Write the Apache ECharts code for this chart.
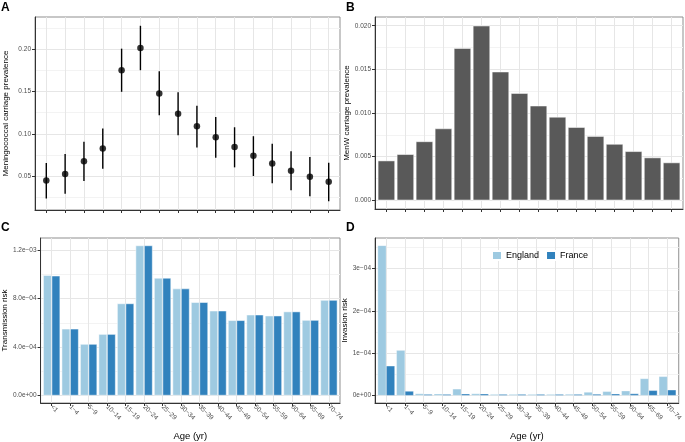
<!DOCTYPE html>
<html>
<head>
<meta charset="utf-8">
<script src="https://cdn.jsdelivr.net/npm/echarts@6/dist/echarts.min.js"></script>
<style>
html,body{margin:0;padding:0;background:#fff;}
#chart{width:685px;height:442px;}
</style>
</head>
<body>
<div id="chart"></div>
<script>
// ---------- data ----------
const ageLabels = ['<1','1\u22124','5\u22129','10\u221214','15\u221219','20\u221224','25\u221229','30\u221234','35\u221239','40\u221244','45\u221249','50\u221254','55\u221259','60\u221264','65\u221269','70\u221274'];

const carriageMean = [0.0445,0.0524,0.0673,0.0826,0.1753,0.2016,0.1478,0.1238,0.1089,0.0959,0.0842,0.0739,0.0649,0.0563,0.0492,0.0433];
const carriageLow  = [0.0233,0.0288,0.0441,0.0586,0.1497,0.1753,0.1219,0.0983,0.0838,0.0716,0.0602,0.0500,0.0414,0.0331,0.0260,0.0201];
const carriageHigh = [0.0653,0.0759,0.0904,0.1061,0.2008,0.2279,0.1741,0.1493,0.1332,0.1199,0.1077,0.0971,0.0881,0.0794,0.0724,0.0657];

const menW = [0.00454,0.00527,0.00674,0.00822,0.01742,0.0200,0.01473,0.01227,0.01083,0.00955,0.00837,0.00735,0.00644,0.00561,0.00489,0.00432];

const transEngland = [9.94e-4,5.51e-4,4.25e-4,5.07e-4,7.60e-4,1.239e-3,9.71e-4,8.83e-4,7.70e-4,7.00e-4,6.21e-4,6.67e-4,6.59e-4,6.93e-4,6.23e-4,7.88e-4];
const transFrance  = [9.89e-4,5.51e-4,4.25e-4,5.07e-4,7.60e-4,1.239e-3,9.71e-4,8.83e-4,7.70e-4,7.00e-4,6.21e-4,6.67e-4,6.59e-4,6.93e-4,6.23e-4,7.88e-4];

const invEngland = [3.547e-4,1.07e-4,4.4e-6,3.9e-6,1.55e-5,4.4e-6,3.0e-6,3.0e-6,3.0e-6,3.0e-6,3.3e-6,8.0e-6,9.6e-6,1.1e-5,4.0e-5,4.5e-5];
const invFrance  = [7.0e-5,1.03e-5,3.0e-6,3.0e-6,3.9e-6,3.9e-6,3.0e-6,3.0e-6,3.0e-6,3.0e-6,3.0e-6,3.3e-6,3.9e-6,4.4e-6,1.2e-5,1.33e-5];

const seriesNames = ['England','France'];

const ticksA = [0.05,0.10,0.15,0.20];
const tickLabelsA = ['0.05','0.10','0.15','0.20'];
const minorA = [0.025,0.075,0.125,0.175,0.225];
const ticksB = [0,0.005,0.010,0.015,0.020];
const tickLabelsB = ['0.000','0.005','0.010','0.015','0.020'];
const minorB = [0.0025,0.0075,0.0125,0.0175];
const ticksC = [0,4e-4,8e-4,1.2e-3];
const tickLabelsC = ['0.0e+00','4.0e\u221204','8.0e\u221204','1.2e\u221203'];
const minorC = [2e-4,6e-4,1e-3];
const ticksD = [0,1e-4,2e-4,3e-4];
const tickLabelsD = ['0e+00','1e\u221204','2e\u221204','3e\u221204'];
const minorD = [0.5e-4,1.5e-4,2.5e-4,3.5e-4];

// ---------- styling ----------
const FONT = '"Liberation Sans", Arial, Helvetica, sans-serif';
const TICK_COLOR = '#4d4d4d';
const GRID_MAJOR = '#e6e6e6';
const GRID_MINOR = '#f3f3f3';
const AXIS_COLOR = '#333333';
const COL_ENG = '#9ecae1';
const COL_FRA = '#3182bd';
const catIdx = ageLabels.map((_, i) => i);
const X_MIN = -0.6, X_MAX = 15.6;

const gridBoxes = [
  {left: 35, top: 17, width: 305, height: 193},
  {left: 375, top: 17, width: 308, height: 192},
  {left: 35, top: 238, width: 305, height: 175},
  {left: 375, top: 238, width: 308, height: 175}
];
const grids = gridBoxes.map(g => Object.assign({show: true, borderColor: '#8f8f8f', borderWidth: 1, backgroundColor: '#fff', containLabel: false}, g));
// pixel width of one category unit in each panel
const unitPx = gridBoxes.map(g => g.width / (X_MAX - X_MIN));

function labelFor(vals, labels) {
  return function (v) {
    for (let i = 0; i < vals.length; i++) if (Math.abs(vals[i] - v) < 1e-12) return labels[i];
    return '';
  };
}

function xAxisFor(gi, showLabels) {
  return {
    type: 'value', gridIndex: gi, min: X_MIN, max: X_MAX,
    name: showLabels ? 'Age (yr)' : '',
    nameLocation: 'middle', nameGap: 28,
    nameTextStyle: {fontFamily: FONT, fontSize: 9.5, color: '#000'},
    axisLine: {show: true, onZero: false, lineStyle: {color: AXIS_COLOR, width: 1}},
    axisTick: {show: true, customValues: catIdx, length: 3, lineStyle: {color: AXIS_COLOR}},
    axisLabel: {
      show: showLabels, customValues: catIdx, rotate: -45, margin: 3,
      fontFamily: FONT, fontSize: 6.5, color: TICK_COLOR,
      formatter: v => ageLabels[Math.round(v)] || ''
    },
    splitLine: {show: true, lineStyle: {color: GRID_MAJOR, width: 1}}
  };
}

function yAxisFor(gi, min, max, ticks, labels, title, gap) {
  return {
    type: 'value', gridIndex: gi, min: min, max: max,
    name: title, nameLocation: 'middle', nameGap: gap,
    nameTextStyle: {fontFamily: FONT, fontSize: 8, color: '#000'},
    axisLine: {show: true, onZero: false, lineStyle: {color: AXIS_COLOR, width: 1}},
    axisTick: {show: true, customValues: ticks, length: 3, lineStyle: {color: AXIS_COLOR}},
    axisLabel: {
      customValues: ticks, margin: 4,
      fontFamily: FONT, fontSize: 6.5, color: TICK_COLOR,
      formatter: labelFor(ticks, labels)
    },
    splitLine: {show: true, lineStyle: {color: GRID_MAJOR, width: 1}}
  };
}

function minorAxisFor(gi, min, max, vals) {
  return {
    type: 'value', gridIndex: gi, min: min, max: max, position: 'left',
    axisLine: {show: false}, axisLabel: {show: false, customValues: vals},
    axisTick: {show: false, customValues: vals},
    splitLine: {show: true, lineStyle: {color: GRID_MINOR, width: 1}},
    z: 0
  };
}

const rangeA = [0.0097, 0.2383];
const rangeB = [-0.001, 0.021];
const rangeC = [-6.2e-5, 1.301e-3];
const rangeD = [-1.77e-5, 3.724e-4];

const option = {
  animation: false,
  backgroundColor: '#fff',
  textStyle: {fontFamily: FONT},
  grid: grids,
  legend: {
    data: seriesNames,
    left: 491, top: 250,
    itemWidth: 10, itemHeight: 9, itemGap: 6,
    icon: 'rect',
    textStyle: {fontFamily: FONT, fontSize: 9, color: '#000', padding: [0, 0, 0, -1]},
    padding: 0
  },
  graphic: [
    {type: 'text', left: 1, top: 2, style: {text: 'A', font: 'bold 12px ' + FONT, fill: '#000'}},
    {type: 'text', left: 346, top: 2, style: {text: 'B', font: 'bold 12px ' + FONT, fill: '#000'}},
    {type: 'text', left: 1, top: 222, style: {text: 'C', font: 'bold 12px ' + FONT, fill: '#000'}},
    {type: 'text', left: 346, top: 222, style: {text: 'D', font: 'bold 12px ' + FONT, fill: '#000'}}
  ],
  xAxis: [
    xAxisFor(0, false),
    xAxisFor(1, false),
    xAxisFor(2, true),
    xAxisFor(3, true)
  ],
  yAxis: [
    yAxisFor(0, rangeA[0], rangeA[1], ticksA, tickLabelsA, 'Meningococcal carriage prevalence', 25),
    yAxisFor(1, rangeB[0], rangeB[1], ticksB, tickLabelsB, 'MenW carriage prevalence', 24),
    yAxisFor(2, rangeC[0], rangeC[1], ticksC, tickLabelsC, 'Transmission risk', 29),
    yAxisFor(3, rangeD[0], rangeD[1], ticksD, tickLabelsD, 'Invasion risk', 24),
    minorAxisFor(0, rangeA[0], rangeA[1], minorA),
    minorAxisFor(1, rangeB[0], rangeB[1], minorB),
    minorAxisFor(2, rangeC[0], rangeC[1], minorC),
    minorAxisFor(3, rangeD[0], rangeD[1], minorD)
  ],
  series: [
    {
      type: 'custom', xAxisIndex: 0, yAxisIndex: 0,
      data: catIdx.map(i => [i, carriageLow[i], carriageHigh[i]]),
      encode: {x: 0, y: [1, 2]},
      renderItem: function (params, api) {
        const x = api.value(0);
        const p1 = api.coord([x, api.value(1)]);
        const p2 = api.coord([x, api.value(2)]);
        return {type: 'line', shape: {x1: p1[0], y1: p1[1], x2: p2[0], y2: p2[1]}, style: {stroke: '#000', lineWidth: 1.4}};
      },
      z: 3
    },
    {
      type: 'scatter', xAxisIndex: 0, yAxisIndex: 0,
      data: catIdx.map(i => [i, carriageMean[i]]),
      symbol: 'circle', symbolSize: 6.5,
      itemStyle: {color: '#000'}, z: 4
    },
    {
      type: 'bar', xAxisIndex: 1, yAxisIndex: 1,
      data: catIdx.map(i => [i, menW[i]]),
      barWidth: unitPx[1] * 0.9,
      itemStyle: {color: '#595959', borderColor: '#ffffff', borderWidth: 0.5}
    },
    {
      name: seriesNames[0], type: 'bar', xAxisIndex: 2, yAxisIndex: 2,
      data: catIdx.map(i => [i, transEngland[i]]),
      barWidth: unitPx[2] * 0.45, barGap: '0%',
      itemStyle: {color: COL_ENG, borderColor: '#ffffff', borderWidth: 0.5}
    },
    {
      name: seriesNames[1], type: 'bar', xAxisIndex: 2, yAxisIndex: 2,
      data: catIdx.map(i => [i, transFrance[i]]),
      barWidth: unitPx[2] * 0.45, barGap: '0%',
      itemStyle: {color: COL_FRA, borderColor: '#ffffff', borderWidth: 0.5}
    },
    {
      name: seriesNames[0], type: 'bar', xAxisIndex: 3, yAxisIndex: 3,
      data: catIdx.map(i => [i, invEngland[i]]),
      barWidth: unitPx[3] * 0.45, barGap: '0%',
      itemStyle: {color: COL_ENG, borderColor: '#ffffff', borderWidth: 0.3}
    },
    {
      name: seriesNames[1], type: 'bar', xAxisIndex: 3, yAxisIndex: 3,
      data: catIdx.map(i => [i, invFrance[i]]),
      barWidth: unitPx[3] * 0.45, barGap: '0%',
      itemStyle: {color: COL_FRA, borderColor: '#ffffff', borderWidth: 0.3}
    }
  ]
};

const chart = echarts.init(document.getElementById('chart'), null, {renderer: 'canvas'});
chart.setOption(option);
</script>
</body>
</html>
